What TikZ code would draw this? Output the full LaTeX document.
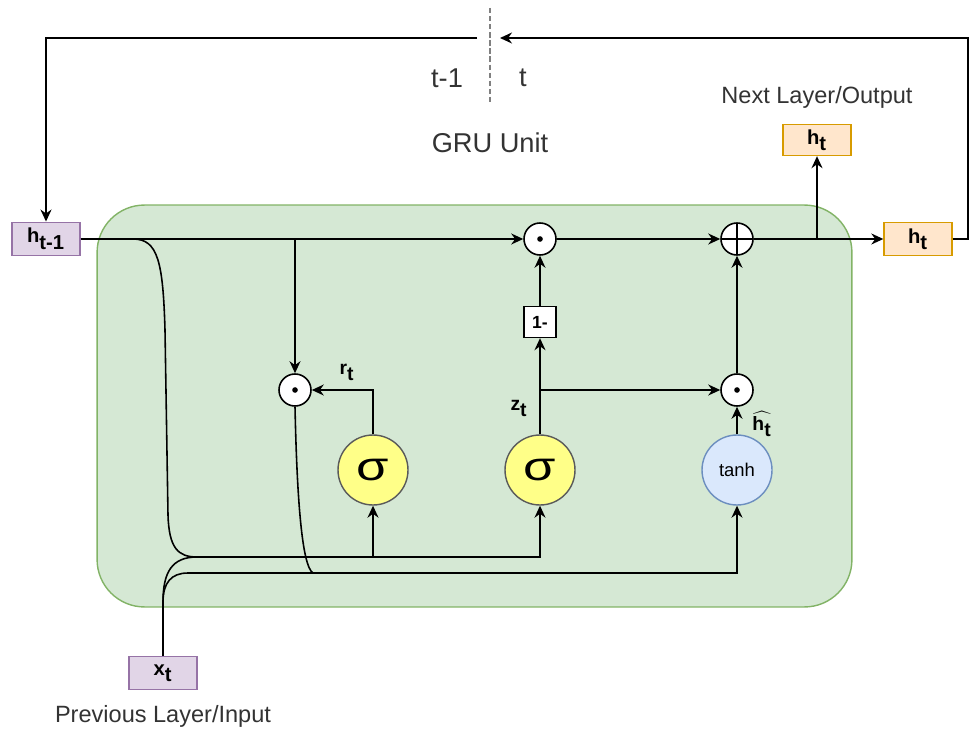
\documentclass[tikz,border=0pt]{standalone}
\usepackage{fontspec}
\setmainfont{Liberation Sans}
\usetikzlibrary{arrows.meta, positioning}
\definecolor{unitfill}{HTML}{D5E8D4}
\definecolor{unitedge}{HTML}{82B366}
\definecolor{hidfill}{HTML}{E1D5E7}
\definecolor{hidedge}{HTML}{9673A6}
\definecolor{outfill}{HTML}{FFE6CC}
\definecolor{outedge}{HTML}{D79B00}
\definecolor{sigfill}{HTML}{FFFF88}
\definecolor{sigedge}{HTML}{5A5A5A}
\definecolor{tanhfill}{HTML}{DAE8FC}
\definecolor{tanhedge}{HTML}{6C8EBF}
\definecolor{txtgray}{HTML}{333333}
\tikzset{
  unit/.style={draw=unitedge, fill=unitfill, line width=0.8pt, rounded corners=0.95cm,
               minimum width=15.1cm, minimum height=8.04cm, inner sep=0pt},
  vecbox/.style={draw=hidedge, fill=hidfill, line width=0.8pt, minimum width=1.36cm,
                 minimum height=0.67cm, inner sep=0pt, font=\bfseries\fontsize{11.5}{12}\selectfont},
  outbox/.style={vecbox, draw=outedge, fill=outfill},
  gate/.style={circle, draw, fill=white, line width=0.9pt, minimum size=0.64cm, inner sep=0pt},
  mult/.style={gate, path picture={\fill[black] (path picture bounding box.center) circle (1.6pt);}},
  addop/.style={gate, path picture={
      \draw[line width=0.9pt] (path picture bounding box.north) -- (path picture bounding box.south)
        (path picture bounding box.west) -- (path picture bounding box.east);}},
  act/.style={circle, line width=0.8pt, minimum size=1.4cm, inner sep=0pt},
  sig/.style={act, draw=sigedge, fill=sigfill, font=\fontsize{23}{24}\selectfont},
  tanhact/.style={act, draw=tanhedge, fill=tanhfill, font=\fontsize{10.5}{12}\selectfont},
  onem/.style={draw, fill=white, line width=0.8pt, minimum width=0.64cm, minimum height=0.62cm,
               inner sep=0pt, font=\bfseries\fontsize{10}{12}\selectfont},
  note/.style={text=txtgray, font=\fontsize{13.4}{15}\selectfont},
  bignote/.style={text=txtgray, font=\fontsize{15.5}{18}\selectfont},
  lbl/.style={font=\bfseries\fontsize{11}{12}\selectfont},
  flow/.style={-{Stealth[length=2.4mm, width=2.2mm]}, line width=0.9pt},
  wire/.style={line width=0.9pt},
}

\begin{document}
\begin{tikzpicture}[x=0.02cm, y=-0.02cm]
  \useasboundingbox (0,0) rectangle (976,729);
  \node[unit] (gru) at (474.5,406) {};

  \node[vecbox] (hprev) at (46,239) {h$_{\textbf{t-1}}$};
  \node[mult] (mz) at (540,239) {};
  \node[addop] (add) at (737,239) {};
  \node[outbox] (hout) at (918,239) {h$_{\textbf{t}}$};
  \node[outbox, minimum height=0.62cm] (hnext) at (817,140) {h$_{\textbf{t}}$};
  \node[note] (nextlbl) at (817,97) {Next Layer/Output};

  \node[mult] (mr) at (295,390) {};
  \node[sig] (sr) at (373,470) {\scalebox{1.3}[1]{σ}};
  \node[sig] (sz) at (540,470) {\scalebox{1.3}[1]{σ}};
  \node[onem] (one) at (540,322) {1-};
  \node[mult] (mh) at (737,390) {};
  \node[tanhact] (th) at (737,470) {tanh};

  \node[vecbox, minimum height=0.66cm] (xin) at (163,673) {x$_{\textbf{t}}$};
  \node[note] (inlbl) at (163,716) {Previous Layer/Input};

  \node[bignote] (tprev) at (447,78) {t-1};
  \node[bignote] (tnow) at (523,78) {t};
  \node[bignote] (title) at (490,143) {GRU Unit};

  \node[lbl] (rlbl) at (347,372) {r$_{\textbf{t}}$};
  \node[lbl] (zlbl) at (519,408) {z$_{\textbf{t}}$};
  \node[lbl] (hlbl) at (762,424) {$\widehat{\textbf{h}_{\textbf{t}}}$};

  \coordinate (cuttop) at (490,8);
  \coordinate (cutbot) at (490,103);
  \coordinate (cutR) at (500,38);
  \coordinate (cutL) at (477,38);
  \coordinate (kh) at (133,239);
  \coordinate (kout) at (817,239);
  \coordinate (kz) at (540,390);
  \coordinate (busU) at (197,557);
  \coordinate (busL) at (188,573);
  \coordinate (kr) at (313,573);
  \coordinate (xsplit) at (163,602);

  % recurrent link
  \draw[gray, line width=1pt, dash pattern=on 3pt off 1.6pt] (cuttop) -- (cutbot);
  \draw[flow] (hout.east) -- ++(15,0) |- (cutR);
  \draw[flow] (cutL) -| (hprev.north);

  \draw[flow] (hprev.east) -- (mz.west);
  \draw[flow] (mz.east) -- (add.west);
  \draw[flow] (add.east) -- (hout.west);
  \draw[flow] (kout) -- (hnext.south);

  \draw[flow] (hprev.east -| mr) -- (mr.north);
  \draw[flow] (sr.north) |- (mr.east);
  \draw[flow] (sz.north) -- (one.south);
  \draw[flow] (one.north) -- (mz.south);
  \draw[flow] (kz) -- (mh.west);
  \draw[flow] (th.north) -- (mh.south);
  \draw[flow] (mh.north) -- (add.south);

  % inputs to the gates
  \draw[wire] (kh) .. controls (158,239) and (163,262) .. (165,330) -- (168,515)
    .. controls (169,548) and (178,557) .. (busU);
  \draw[wire] (mr.south) .. controls (297,500) and (302,566) .. (kr);
  \draw[wire] (xin.north) -- (xsplit) .. controls (163,572) and (172,557) .. (busU);
  \draw[wire] (xsplit) .. controls (163,583) and (171,573) .. (busL);
  \draw[flow] (busU) -| (sz.south);
  \draw[flow] (sr.south |- busU) -- (sr.south);
  \draw[flow] (busL) -| (th.south);
\end{tikzpicture}
\end{document}
